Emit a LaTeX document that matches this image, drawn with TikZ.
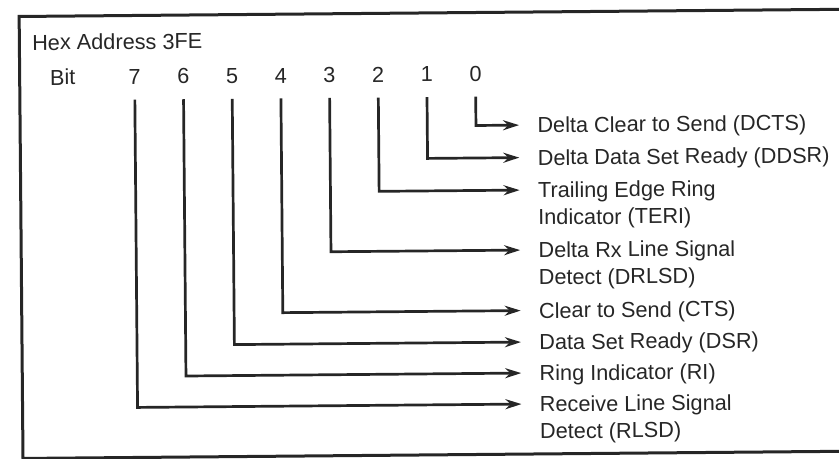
\documentclass[tikz,border=0pt]{standalone}
\usepackage{fontspec}
\setmainfont{Liberation Sans}
\usetikzlibrary{arrows.meta}
\begin{document}
\begin{tikzpicture}[x=0.5bp,y=-0.5bp,
  txt/.style={font=\fontsize{10.85bp}{13.5bp}\selectfont, inner sep=0pt, text height=7.8bp, text depth=0pt, text=black!85},
  lbl/.style={txt, anchor=west},
  digit/.style={txt, anchor=center},
  wire/.style={line width=1.35bp, draw=black!85},
  arr/.style={wire, -{Stealth[length=8bp,width=5bp,inset=2.6bp]}},
  frame/.style={line width=1.5bp, draw=black!85}]
\useasboundingbox (0,0) rectangle (839,459);
\clip (0,0) rectangle (839,459);
\begin{scope}[rotate around={0.5:(419.5,229.5)}, transform shape]
\draw[frame] (900,13) -- (21,13) -- (21,455) -- (900,455);
\node[lbl] (hex) at (33.5,39) {Hex Address 3FE};
\node[lbl] (bit) at (51,74) {Bit};
\node[digit] (b7) at (136,74) {7};
\node[digit] (b6) at (184.7,74) {6};
\node[digit] (b5) at (233.4,74) {5};
\node[digit] (b4) at (282.1,74) {4};
\node[digit] (b3) at (330.8,74) {3};
\node[digit] (b2) at (379.5,74) {2};
\node[digit] (b1) at (428.2,74) {1};
\node[digit] (b0) at (476.9,74) {0};
\node[lbl] (l0) at (538,126) {Delta Clear to Send (DCTS)};
\node[lbl] (l1) at (538,158.5) {Delta Data Set Ready (DDSR)};
\node[lbl] (l2) at (538,191) {Trailing Edge Ring};
\node[lbl] (l2b) at (538,218) {Indicator (TERI)};
\node[lbl] (l3) at (538,251) {Delta Rx Line Signal};
\node[lbl] (l3b) at (538,278) {Detect (DRLSD)};
\node[lbl] (l4) at (538,311.5) {Clear to Send (CTS)};
\node[lbl] (l5) at (538,343) {Data Set Ready (DSR)};
\node[lbl] (l6) at (538,374) {Ring Indicator (RI)};
\node[lbl] (l7) at (538,405) {Receive Line Signal};
\node[lbl] (l7b) at (538,432) {Detect (RLSD)};
\coordinate (c0) at (476.9,126);
\coordinate (c1) at (428.2,158.5);
\coordinate (c2) at (379.5,191);
\coordinate (c3) at (330.8,251);
\coordinate (c4) at (282.1,311.5);
\coordinate (c5) at (233.4,343);
\coordinate (c6) at (184.7,374);
\coordinate (c7) at (136,405);
\foreach \i in {0,...,7}{
  \draw[arr] ([yshift=-7.5bp]b\i.south) -- (c\i) -- ([xshift=-9bp]l\i.west);
}
\end{scope}
\end{tikzpicture}
\end{document}
